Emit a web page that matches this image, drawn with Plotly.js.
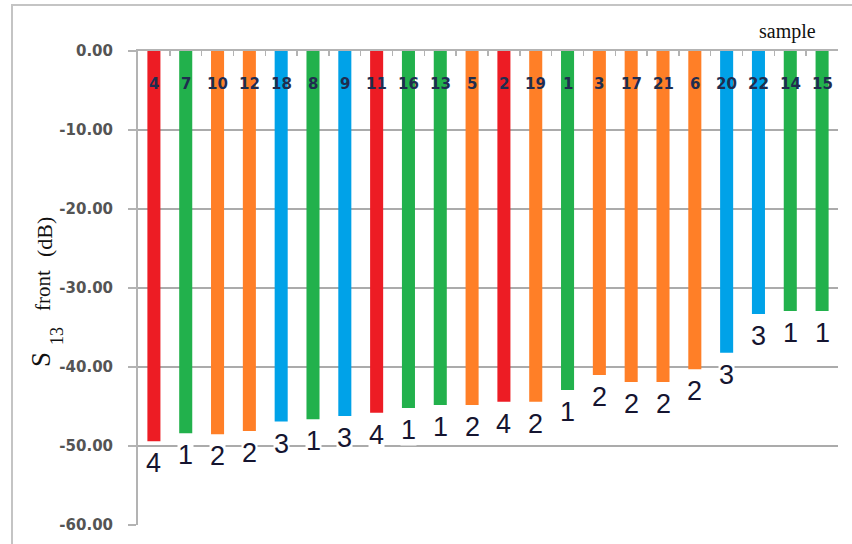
<!DOCTYPE html>
<html>
<head>
<meta charset="utf-8">
<script src="https://cdn.plot.ly/plotly-3.0.1.min.js"></script>
<style>html,body{margin:0;padding:0;background:#fff;}#chart{width:852px;height:544px;}</style>
</head>
<body>
<div id="chart"></div>
<script>
// sample IDs, in the order drawn
const samples = ['4','7','10','12','18','8','9','11','16','13','5','2','19','1','3','17','21','6','20','22','14','15'];
// S13 front values (dB)
const s13 = [-49.4,-48.4,-48.5,-48.1,-46.9,-46.6,-46.2,-45.8,-45.2,-44.8,-44.8,-44.4,-44.4,-42.9,-41.0,-41.9,-41.9,-40.3,-38.2,-33.3,-32.9,-32.9];
// group number of each sample
const groups = [4,1,2,2,3,1,3,4,1,1,2,4,2,1,2,2,2,2,3,3,1,1];
// y tick values and labels
const yTickVals = [0,-10,-20,-30,-40,-50,-60];
const yTickText = ['0.00','-10.00','-20.00','-30.00','-40.00','-50.00','-60.00'];
// axis title pieces
const yTitleParts = ['S','13','front','(dB)'];
const groupColors = {1:'#22B14C', 2:'#FF7F27', 3:'#00A2E8', 4:'#ED1C24'};

const idx = samples.map((s,i)=>i);

const trace = {
  type:'bar', x:idx, y:s13,
  marker:{color:groups.map(g=>groupColors[g]), line:{width:0}},
  hoverinfo:'skip'
};

const annotations = [];
samples.forEach((s,i)=>{
  annotations.push({
    x:i, y:0, xref:'x', yref:'y', text:s, showarrow:false,
    yanchor:'middle', yshift:-33,
    font:{family:'DejaVu Sans', size:15, color:'#1F2D4F', weight:'bold'}
  });
  annotations.push({
    x:i, y:s13[i], xref:'x', yref:'y', text:String(groups[i]), showarrow:false,
    yanchor:'middle', yshift:-22, bgcolor:'#ffffff', borderpad:0,
    font:{family:'Liberation Sans, Arial', size:27, color:'#151530'}
  });
});
annotations.push({
  xref:'paper', yref:'paper', x:(787-138)/700, y:(525-32)/474, text:'sample',
  showarrow:false, xanchor:'center', yanchor:'middle',
  font:{family:'Liberation Serif', size:20, color:'#111'}
});
// rotated y-axis title, drawn piece by piece
const px = p => (p-138)/700, py = p => (525-p)/474;
const titleSpec = [
  {cx:41, cy:360, size:27},
  {cx:57, cy:336, size:18},
  {cx:43, cy:291, size:21},
  {cx:44, cy:237, size:22}
];
yTitleParts.forEach((t,i)=>{
  annotations.push({
    xref:'paper', yref:'paper', x:px(titleSpec[i].cx), y:py(titleSpec[i].cy), text:t,
    textangle:-90, showarrow:false, xanchor:'center', yanchor:'middle',
    font:{family:'Liberation Serif', size:titleSpec[i].size, color:'#111'}
  });
});

const layout = {
  width:852, height:544,
  margin:{l:138, r:14, t:51, b:19, pad:0},
  paper_bgcolor:'#ffffff', plot_bgcolor:'#ffffff',
  showlegend:false, bargap:0.59,
  xaxis:{
    type:'linear', side:'top', range:[-0.5,21.5],
    showline:true, linecolor:'#b3b3b3', linewidth:2,
    ticks:'inside', tickmode:'linear', tick0:-0.5, dtick:1, ticklen:5, tickwidth:1.5, tickcolor:'#b3b3b3',
    showticklabels:false, showgrid:false, zeroline:false, fixedrange:true
  },
  yaxis:{
    range:[-60,0], tickvals:yTickVals, ticktext:yTickText,
    showline:true, linecolor:'#b3b3b3', linewidth:2,
    ticks:'outside', ticklen:8, tickwidth:1.5, tickcolor:'#b3b3b3',
    ticklabelstandoff:12,
    showgrid:true, gridcolor:'#ababab', gridwidth:1.5, zeroline:false,
    tickfont:{family:'DejaVu Sans', size:15, color:'#545454', weight:'bold'},
    fixedrange:true
  },
  annotations:annotations,
  shapes:[{
    type:'rect', xref:'paper', yref:'paper',
    x0:(12-138)/700, x1:(870-138)/700, y0:(525-570)/474, y1:(525-5)/474,
    line:{color:'#c4c4c4', width:2}, fillcolor:'rgba(0,0,0,0)', layer:'below'
  }]
};

Plotly.newPlot('chart',[trace],layout,{displayModeBar:false, staticPlot:true});
</script>
</body>
</html>
